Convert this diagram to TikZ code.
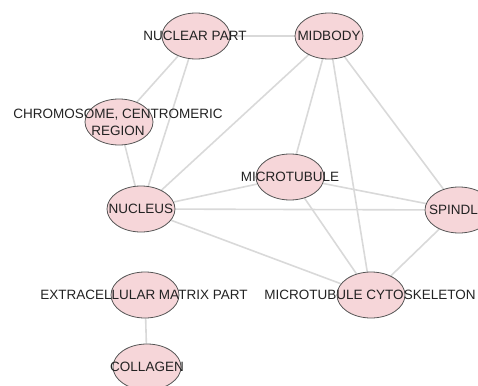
\documentclass[tikz,border=0pt]{standalone}
\usepackage{fontspec}
\setmainfont{Liberation Sans}
\usetikzlibrary{shapes.geometric,backgrounds}
\definecolor{nodefill}{HTML}{F6D6D9}
\definecolor{nodeline}{HTML}{555555}
\definecolor{edgecol}{HTML}{D9D9D9}
\definecolor{txtcol}{HTML}{222222}
\tikzset{
  gonode/.style={ellipse, draw=nodeline, line width=0.8pt, fill=nodefill,
    minimum width=68pt, minimum height=46pt, inner sep=0pt},
  golabel/.style={text=txtcol, font=\fontsize{13.5}{17}\selectfont, inner sep=0pt, align=center},
  goedge/.style={draw=edgecol, line width=1.6pt}
}
\begin{document}
\begin{tikzpicture}[x=1pt,y=-1pt]
\useasboundingbox (0,0) rectangle (478,385);
\node[gonode] (np) at (196,36) {};
\node[gonode] (mb) at (329,36) {};
\node[gonode] (ch) at (119,122) {};
\node[gonode] (mt) at (290,177) {};
\node[gonode] (nu) at (141,209) {};
\node[gonode] (sp) at (459,210) {};
\node[gonode] (ex) at (145,295) {};
\node[gonode] (mc) at (371,295) {};
\node[gonode] (co) at (147,367) {};
\begin{scope}[on background layer]
\draw[goedge] (np) -- (mb);
\draw[goedge] (np) -- (ch);
\draw[goedge] (np) -- (nu);
\draw[goedge] (ch) -- (nu);
\draw[goedge] (mb) -- (nu);
\draw[goedge] (mb) -- (mt);
\draw[goedge] (mb) -- (mc);
\draw[goedge] (mb) -- (sp);
\draw[goedge] (mt) -- (nu);
\draw[goedge] (mt) -- (sp);
\draw[goedge] (mt) -- (mc);
\draw[goedge] (nu) -- (sp);
\draw[goedge] (nu) -- (mc);
\draw[goedge] (sp) -- (mc);
\draw[goedge] (ex) -- (co);
\end{scope}
\node[golabel] (tnp) at ([xshift=-1pt]np.center) {NUCLEAR PART};
\node[golabel] (tmb) at (mb.center) {MIDBODY};
\node[golabel] (tch) at ([xshift=-1pt]ch.center) {CHROMOSOME, CENTROMERIC\\REGION};
\node[golabel] (tmt) at (mt.center) {MICROTUBULE};
\node[golabel] (tnu) at (nu.center) {NUCLEUS};
\node[golabel] (tsp) at ([xshift=-1pt]sp.center) {SPINDLE};
\node[golabel] (tex) at ([xshift=-1pt]ex.center) {EXTRACELLULAR MATRIX PART};
\node[golabel] (tmc) at ([xshift=-1pt]mc.center) {MICROTUBULE CYTOSKELETON};
\node[golabel] (tco) at (co.center) {COLLAGEN};
\end{tikzpicture}
\end{document}
